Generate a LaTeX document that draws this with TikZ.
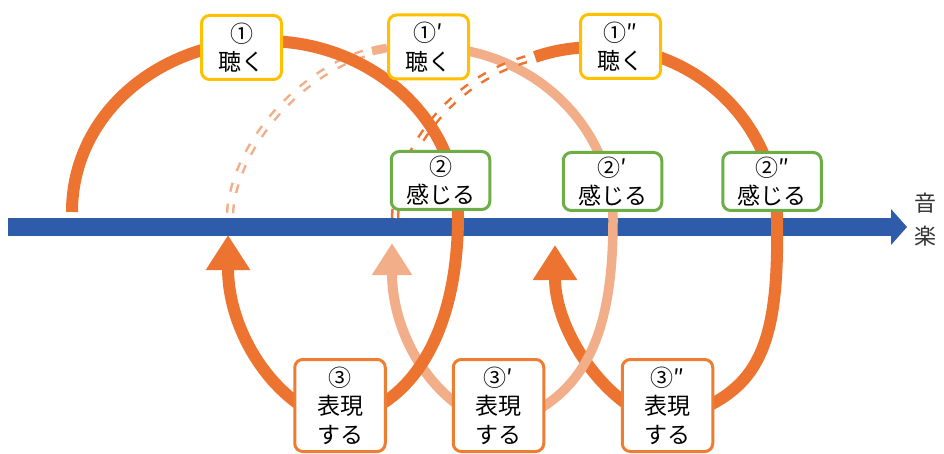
\documentclass[tikz,border=0pt]{standalone}
\usepackage{fontspec}
\setmainfont{Noto Sans CJK JP}
\usetikzlibrary{arrows.meta,backgrounds}
\definecolor{blu}{HTML}{2E5CAA}
\definecolor{org}{HTML}{EC7330}
\definecolor{lgt}{HTML}{F1AE88}
\definecolor{ylw}{HTML}{FFC000}
\definecolor{grn}{HTML}{6DAD46}
\definecolor{obx}{HTML}{ED7D31}
\begin{document}
\begin{tikzpicture}[x=1pt,y=-1pt,
  box/.style={draw, line width=3pt, rounded corners=8pt, fill=white, align=center,
    inner sep=0pt, font=\fontsize{23}{28.5}\selectfont},
  ybox/.style={box, draw=ylw, minimum width=80pt, minimum height=64pt},
  gbox/.style={box, draw=grn, minimum width=98.5pt, minimum height=58pt},
  obox/.style={box, draw=obx, minimum width=90.5pt, minimum height=92pt},
  arcO/.style={draw=org, line width=12pt},
  arcL/.style={draw=lgt, line width=9.5pt},
  arrO/.style={draw=org, line width=12pt, -{Triangle[width=42pt,length=35pt]}},
  arrL/.style={draw=lgt, line width=10pt, -{Triangle[width=38pt,length=32pt]}},
  dashO/.style={draw=org, double=white, double distance=3.5pt, line width=2.5pt, dash pattern=on 9pt off 12pt},
  dashL/.style={draw=lgt, double=white, double distance=3.5pt, line width=2.5pt, dash pattern=on 9pt off 12pt},
  axis/.style={draw=blu, line width=18pt, -{Triangle[width=35pt,length=16pt]}},
  lbl/.style={font=\fontsize{22}{33}\selectfont, text=black!80, align=center, inner sep=0pt}
]
\useasboundingbox (0,0) rectangle (944,454);

% boxes
\node[ybox] (a1) at (241.5,47.5) {①\\聴く};
\node[ybox] (a2) at (428.5,47) {①′\\聴く};
\node[ybox] (a3) at (620.5,46.5) {①″\\聴く};
\node[gbox] (b1) at (440.5,180.5) {②\\感じる};
\node[gbox] (b2) at (612.5,181.5) {②′\\感じる};
\node[gbox] (b3) at (772,181.5) {②″\\感じる};
\node[obox] (c1) at (340,405.5) {③\\表現\\する};
\node[obox] (c2) at (498.5,405.5) {③′\\表現\\する};
\node[obox] (c3) at (667.5,405.5) {③″\\表現\\する};
\node[lbl] (music) at (925,220) {音\\楽};

% key points
\coordinate (axS) at (8,227);
\coordinate (axE) at (907,227);
\coordinate (s1) at (72,212);
\coordinate (t1) at (265,41);
\coordinate (r1) at (458,216);
\coordinate (e1) at (380,405);
\coordinate (p1) at (300,405);
\coordinate (q1) at (228,235);
\coordinate (t2) at (428,47);
\coordinate (r2) at (613,220);
\coordinate (e2) at (538,410);
\coordinate (p2) at (458,405);
\coordinate (q2) at (392,243);
\coordinate (d2s) at (230,213);
\coordinate (d2e) at (387,48);
\coordinate (d2m) at (372,51);
\coordinate (t3) at (600,47);
\coordinate (r3) at (777,220);
\coordinate (e3) at (706,407);
\coordinate (p3) at (628,405);
\coordinate (q3) at (555,245);
\coordinate (d3s) at (395,218);
\coordinate (d3e) at (535,57);

\begin{scope}[on background layer]
  \draw[axis] (axS) -- (axE);
  % cycle 3
  \draw[arrO] (p3) .. controls (586,375) and (555,320) .. (q3);
  \draw[arcO] (d3e) .. controls (555,50) and (575,47) .. (t3)
     .. controls (697.8,47) and (777,126) .. (r3)
     .. controls (779,335) and (762,380) .. (e3);
  % cycle 2
  \draw[arrL] (p2) .. controls (416,374) and (392,320) .. (q2);
  \draw[arcL] (t2) .. controls (530,47) and (613,124.5) .. (r2)
     .. controls (613,320) and (592,378) .. (e2);
  % lead-in dashes
  \draw[dashO] (d3s) .. controls (397,150) and (455,75) .. (d3e);
  \draw[dashL] (d2s) .. controls (235,140) and (310,60) .. (d2e);
  \draw[draw=lgt, line width=8.5pt] (d2m) -- (d2e);
  % cycle 1
  \draw[arrO] (p1) .. controls (258,376) and (228,320) .. (q1);
  \draw[arcO] (s1) .. controls (72,115) and (158.4,41) .. (t1)
     .. controls (371.6,41) and (458,119.3) .. (r1)
     .. controls (458,310) and (428,376) .. (e1);
\end{scope}
\end{tikzpicture}
\end{document}
